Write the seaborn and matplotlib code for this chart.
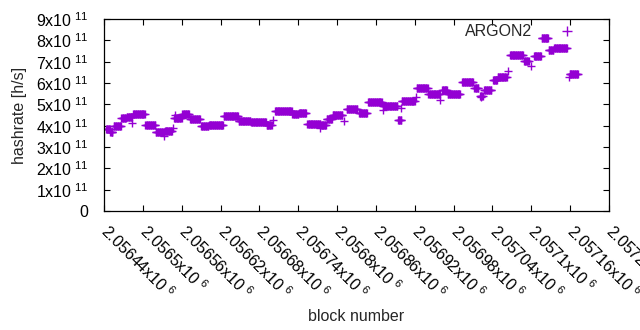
import numpy as np
import pandas as pd
import seaborn as sns
import matplotlib
matplotlib.use("Agg")
import matplotlib.pyplot as plt
from matplotlib.lines import Line2D
from matplotlib.ticker import FixedLocator, FixedFormatter

# blocks are stored as offsets from the first x tick
base_block = 2056440

# runs of consecutive blocks with the same hashrate (x1e11 h/s)
run_start = [3, 10, 15, 27, 35, 45, 64, 80, 94, 108, 121, 133, 150, 162, 185, 208,
             227, 251, 264, 291, 301, 314, 335, 344, 353, 375, 394, 408, 431, 454,
             460, 483, 501, 522, 531, 553, 572, 581, 587, 601, 608, 627, 649, 664,
             676, 687, 695, 719]
run_end = [9, 13, 26, 34, 43, 63, 79, 93, 105, 120, 131, 148, 161, 184, 207, 226,
           250, 259, 290, 300, 312, 334, 343, 352, 368, 391, 406, 429, 453, 459,
           480, 500, 519, 530, 550, 570, 578, 585, 598, 607, 622, 647, 656, 675,
           686, 694, 715, 732]
run_rate = [3.85, 3.72, 3.98, 4.36, 4.42, 4.55, 4.03, 3.70, 3.76, 4.38, 4.55, 4.30,
            4.00, 4.05, 4.45, 4.20, 4.15, 4.05, 4.70, 4.55, 4.60, 4.10, 4.05, 4.30,
            4.50, 4.80, 4.60, 5.10, 4.90, 4.28, 5.15, 5.75, 5.50, 5.65, 5.50, 6.05,
            5.75, 5.40, 5.65, 6.15, 6.30, 7.30, 7.03, 7.27, 8.10, 7.55, 7.65, 6.42]

# single off-run blocks
pt_block = [12, 43, 93, 107, 110, 261, 334, 371, 431, 459, 482, 519, 583, 624, 660, 718]
pt_rate = [3.70, 4.13, 3.52, 3.90, 4.50, 4.27, 3.90, 4.20, 4.75, 4.85, 5.35, 5.20,
           5.35, 6.55, 6.80, 6.30]

x_ticks = [2056440 + 60 * i for i in range(14)]
x_labels = ["2.05644", "2.0565", "2.05656", "2.05662", "2.05668", "2.05674", "2.0568",
            "2.05686", "2.05692", "2.05698", "2.05704", "2.0571", "2.05716", "2.05722"]
y_ticks = [i * 1e11 for i in range(10)]

purple = "#9400d3"

blocks, rates = [], []
for s, e, r in zip(run_start, run_end, run_rate):
    for b in range(s, e + 1):
        blocks.append(base_block + b)
        rates.append(r * 1e11)
for b, r in zip(pt_block, pt_rate):
    blocks.append(base_block + b)
    rates.append(r * 1e11)
df = pd.DataFrame({"block": blocks, "hashrate": rates})

sns.set_style("ticks")
plt.rcParams["font.family"] = ["Liberation Sans", "DejaVu Sans"]
plt.rcParams["mathtext.fontset"] = "custom"
plt.rcParams["mathtext.rm"] = "Liberation Sans"
plt.rcParams["font.size"] = 11.5

fig = plt.figure(figsize=(6.4, 3.3), dpi=100)
ax = fig.add_axes([104 / 640, 1 - 211 / 330, 505 / 640, 192 / 330])

sns.scatterplot(data=df, x="block", y="hashrate", marker="+", color=purple,
                s=30, linewidth=1.0, legend=False, ax=ax)

ax.set_xlim(2056440, 2057220)
ax.set_ylim(0, 9e11)
ax.xaxis.set_major_locator(FixedLocator(x_ticks))
ax.xaxis.set_major_formatter(FixedFormatter(
    [r"$\mathregular{" + t + r"x10^{\ 6}}$" for t in x_labels]))
ax.yaxis.set_major_locator(FixedLocator(y_ticks))
ax.yaxis.set_major_formatter(FixedFormatter(
    ["0"] + [r"$\mathregular{%dx10^{\ 11}}$" % i for i in range(1, 10)]))

ax.tick_params(direction="in", length=4, width=0.8, top=True, right=True,
               labelsize=11.5, colors="black")
ax.tick_params(axis="y", pad=11)
ax.tick_params(axis="x", pad=12)
for lab in ax.get_xticklabels():
    lab.set_rotation(-45)
    lab.set_ha("left")
    lab.set_va("center")
    lab.set_rotation_mode("anchor")
for sp in ax.spines.values():
    sp.set_linewidth(0.9)
    sp.set_color("black")

ax.set_xlabel("block number", fontsize=11.5)
ax.set_ylabel("hashrate [h/s]", fontsize=11.5)
ax.xaxis.set_label_coords(0.5, -0.51)
ax.yaxis.set_label_coords(-0.153, 0.5)

handle = Line2D([], [], marker="+", color=purple, linestyle="none",
                markersize=7, markeredgewidth=1.0)
ax.legend([handle], ["ARGON2"], loc="center right",
          bbox_to_anchor=(0.9485, (211 - 32) / 192), frameon=False,
          markerfirst=False, handletextpad=1.2, handlelength=2.0,
          borderpad=0, borderaxespad=0, fontsize=11.5)

fig.savefig("out.png", dpi=100)
